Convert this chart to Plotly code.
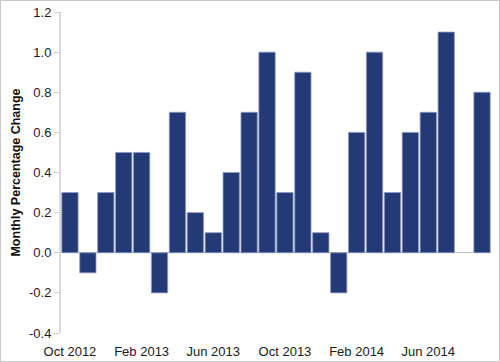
import plotly.graph_objects as go

months = ["Oct 2012", "Nov 2012", "Dec 2012", "Jan 2013", "Feb 2013", "Mar 2013",
          "Apr 2013", "May 2013", "Jun 2013", "Jul 2013", "Aug 2013", "Sep 2013",
          "Oct 2013", "Nov 2013", "Dec 2013", "Jan 2014", "Feb 2014", "Mar 2014",
          "Apr 2014", "May 2014", "Jun 2014", "Jul 2014", "Aug 2014", "Sep 2014"]
values = [0.3, -0.1, 0.3, 0.5, 0.5, -0.2, 0.7, 0.2, 0.1, 0.4, 0.7, 1.0,
          0.3, 0.9, 0.1, -0.2, 0.6, 1.0, 0.3, 0.6, 0.7, 1.1, None, 0.8]
tick_labels = ["Oct 2012", "Feb 2013", "Jun 2013", "Oct 2013", "Feb 2014", "Jun 2014"]
y_ticks = [-0.4, -0.2, 0.0, 0.2, 0.4, 0.6, 0.8, 1.0, 1.2]

W, H = 500, 362
L, R, T, B = 61, 9, 12, 29
pw, ph = W - L - R, H - T - B

fig = go.Figure()
fig.add_trace(go.Bar(
    x=months, y=values,
    marker=dict(color="#233a77", line=dict(color="#8d9bc0", width=0.8)),
    showlegend=False,
))

n = len(months)
boundaries = [i - 0.5 for i in range(0, n + 1, 4)]
ymin, ymax = -0.4, 1.2

fig.update_layout(
    width=W, height=H,
    margin=dict(l=L, r=R, t=T, b=B, autoexpand=False),
    paper_bgcolor="white", plot_bgcolor="white",
    bargap=0.09,
    font=dict(family="Liberation Sans, Arial, sans-serif", size=13, color="#1a1a1a"),
    xaxis=dict(
        type="category", range=[-0.5, n - 0.5], automargin=False,
        tickmode="array", tickvals=tick_labels, ticktext=tick_labels,
        ticks="outside", ticklen=6, tickcolor="rgba(0,0,0,0)",
        showline=False, showgrid=False, zeroline=False,
        tickfont=dict(size=13, color="#1a1a1a"),
    ),
    xaxis2=dict(
        overlaying="x", anchor="free", position=(0 - ymin) / (ymax - ymin),
        range=[-0.5, n - 0.5], tickmode="array", tickvals=boundaries,
        ticks="outside", ticklen=4, tickcolor="#c8c8c8", tickwidth=1,
        showticklabels=False, showline=False, showgrid=False, zeroline=False,
        automargin=False,
    ),
    yaxis=dict(
        range=[ymin, ymax], tickmode="array", tickvals=y_ticks, automargin=False,
        ticktext=[f"{v:.1f}" for v in y_ticks],
        ticks="outside", ticklen=5, tickcolor="#c8c8c8", tickwidth=1,
        showline=True, linecolor="#d9d9d9", linewidth=2,
        showgrid=False, zeroline=True, zerolinecolor="#c0c0c0", zerolinewidth=1,
        tickfont=dict(size=13, color="#1a1a1a"),
        title=dict(text="<b>Monthly Percentage Change</b>", font=dict(size=12.5, color="#111111"), standoff=6),
    ),
    shapes=[dict(
        type="rect", xref="paper", yref="paper",
        x0=(0.5 - L) / pw, x1=(W - 0.5 - L) / pw,
        y0=(H - B - (H - 0.5)) / ph, y1=(H - B - 0.5) / ph,
        line=dict(color="#c8c8c8", width=1), fillcolor="rgba(0,0,0,0)", layer="below",
    )],
)

fig.write_html("out.html", config={"displayModeBar": False},
               post_script="document.body.style.margin='0';")
